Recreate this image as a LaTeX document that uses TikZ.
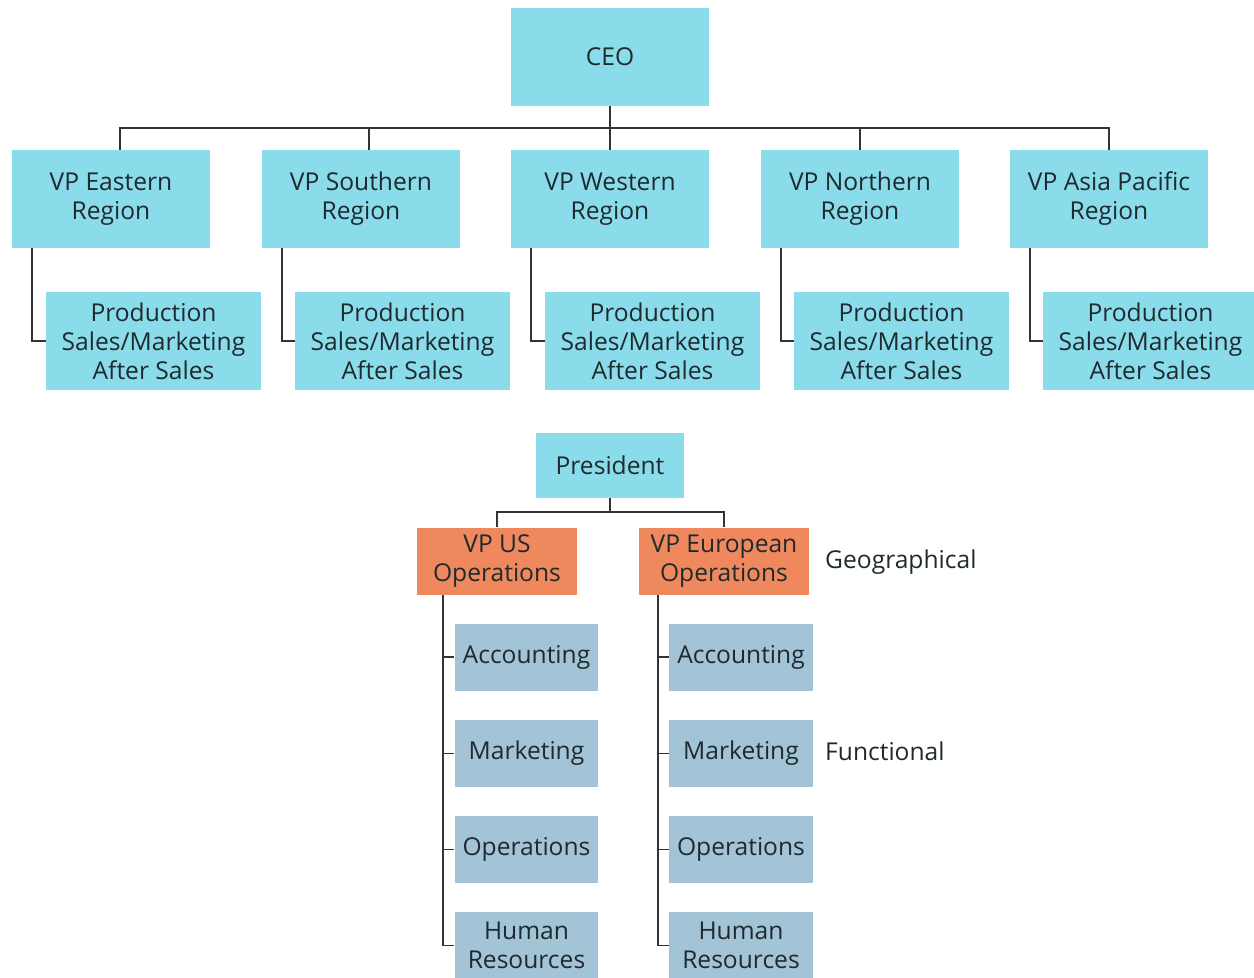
\documentclass[tikz,border=0pt]{standalone}
\usepackage{fontspec}
\setmainfont{Open Sans}
\usepackage{tikz}

\definecolor{regioncyan}{HTML}{8ADCEB}
\definecolor{geoorange}{HTML}{F0885E}
\definecolor{funcblue}{HTML}{A3C4D7}
\definecolor{inktext}{HTML}{1F2A2E}
\definecolor{inkline}{HTML}{333333}

\tikzset{
  unit/.style={rectangle, inner sep=0pt, align=center, text=inktext,
    font=\fontsize{14}{16.5}\selectfont},
  region/.style={unit, fill=regioncyan, minimum width=3.96cm, minimum height=1.96cm},
  branch/.style={unit, fill=regioncyan, minimum width=4.3cm, minimum height=1.96cm},
  geo/.style={unit, fill=geoorange, minimum height=1.34cm},
  func/.style={unit, fill=funcblue, minimum width=2.88cm, minimum height=1.34cm},
  link/.style={draw=inkline, line width=1pt},
  tag/.style={anchor=west, text=inktext, font=\fontsize{14}{16.5}\selectfont}
}

\begin{document}
\begin{tikzpicture}[x=0.02cm, y=-0.02cm]
\useasboundingbox (0,0) rectangle (1254,977);

% Geographical chart (top)
\node[region] (ceo) at (610, 57) {CEO};

\node[region] (east) at (111, 199) {VP Eastern\\Region};
\node[region] (south) at (361, 199) {VP Southern\\Region};
\node[region] (west) at (610, 199) {VP Western\\Region};
\node[region] (north) at (860, 199) {VP Northern\\Region};
\node[region] (asia) at (1109, 199) {VP Asia Pacific\\Region};

\node[branch] (eastsub) at (153.5, 341) {Production\\Sales/Marketing\\After Sales};
\node[branch] (southsub) at (402.5, 341) {Production\\Sales/Marketing\\After Sales};
\node[branch] (westsub) at (652.5, 341) {Production\\Sales/Marketing\\After Sales};
\node[branch] (northsub) at (901.5, 341) {Production\\Sales/Marketing\\After Sales};
\node[branch] (asiasub) at (1150.5, 341) {Production\\Sales/Marketing\\After Sales};

% Bus from CEO to the regions
\coordinate (bus) at (610, 128);
\draw[link] (ceo.south) -- (bus);
\draw[link] ([xshift=0.18cm]east.north) |- (bus) -| (asia.north);
\draw[link] ([xshift=0.16cm]south.north) -- ([xshift=0.16cm]south.north |- bus);
\draw[link] (west.north) -- (bus);
\draw[link] (north.north) -- (north.north |- bus);

% Elbows to the departments
\draw[link] ([xshift=0.4cm]east.south west) |- (eastsub.west);
\draw[link] ([xshift=0.4cm]south.south west) |- (southsub.west);
\draw[link] ([xshift=0.4cm]west.south west) |- (westsub.west);
\draw[link] ([xshift=0.4cm]north.south west) |- (northsub.west);
\draw[link] ([xshift=0.4cm]asia.south west) |- (asiasub.west);

% Mixed chart (bottom)
\node[region, minimum width=2.98cm, minimum height=1.3cm] (pres) at (610, 465) {President};

\node[geo, minimum width=3.2cm] (us) at (497, 561) {VP US\\Operations};
\node[geo, minimum width=3.4cm] (eu) at (724, 561) {VP European\\Operations};

\node[func] (usacc) at (526.5, 657) {Accounting};
\node[func] (usmkt) at (526.5, 753.5) {Marketing};
\node[func] (usops) at (526.5, 849.5) {Operations};
\node[func] (ushr) at (526.5, 945.5) {Human\\Resources};

\node[func] (euacc) at (741, 657) {Accounting};
\node[func] (eumkt) at (741, 753.5) {Marketing};
\node[func] (euops) at (741, 849.5) {Operations};
\node[func] (euhr) at (741, 945.5) {Human\\Resources};

% Bus from President
\coordinate (bus2) at (610, 512);
\draw[link] (pres.south) -- (bus2);
\draw[link] (us.north) |- (bus2) -| (eu.north);

% Functional spines
\coordinate (usline) at ([xshift=0.52cm]us.south west);
\coordinate (euline) at ([xshift=0.38cm]eu.south west);
\draw[link] (usline) |- (ushr.west);
\draw[link] (usacc.west) -- (usacc.west -| usline);
\draw[link] (usmkt.west) -- (usmkt.west -| usline);
\draw[link] (usops.west) -- (usops.west -| usline);
\draw[link] (euline) |- (euhr.west);
\draw[link] (euacc.west) -- (euacc.west -| euline);
\draw[link] (eumkt.west) -- (eumkt.west -| euline);
\draw[link] (euops.west) -- (euops.west -| euline);

% Labels
\node[tag] (geolabel) at (819, 562) {Geographical};
\node[tag] (funclabel) at (819, 751) {Functional};

\end{tikzpicture}
\end{document}
